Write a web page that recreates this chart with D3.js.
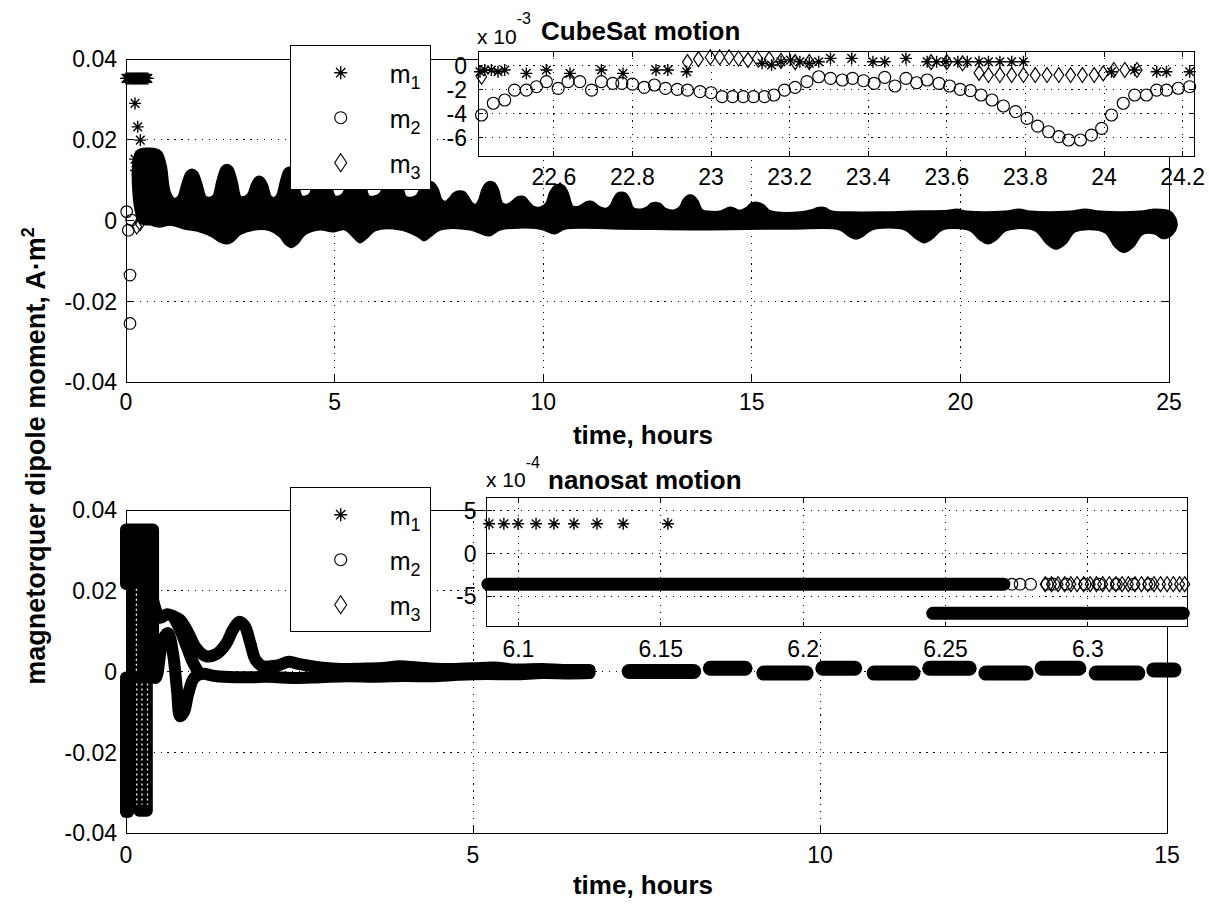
<!DOCTYPE html>
<html>
<head>
<meta charset="utf-8">
<script src="https://cdn.jsdelivr.net/npm/d3@7"></script>
<style>
  body { margin: 0; background: #fff; }
  svg { display: block; }
  text { font-family: "Liberation Sans", Arial, Helvetica, sans-serif; fill: #000; }
</style>
</head>
<body>
<svg id="chart" width="1209" height="906"></svg>
<script>
// ---------------- tick values ----------------
const mainYTicks = [-0.04, -0.02, 0, 0.02, 0.04];
const cubeXTicks = [0, 5, 10, 15, 20, 25];
const nanoXTicks = [0, 5, 10, 15];
const cubeZoomXTicks = [22.6, 22.8, 23, 23.2, 23.4, 23.6, 23.8, 24, 24.2];
const cubeZoomYTicks = [0, -2, -4, -6];
const nanoZoomXTicks = [6.1, 6.15, 6.2, 6.25, 6.3];
const nanoZoomYTicks = [5, 0, -5];
const legendSubs = ["1", "2", "3"];

// ---------------- CubeSat run (hours, A·m²) ----------------
// outer edges of the dense m1/m2/m3 marker band
const cubeBandUpper = [[0.26,0.0170],[0.58,0.0177],[0.82,0.0170],[0.94,0.0137],[1.04,0.0070],[1.16,0.0053],
  [1.26,0.0058],[1.36,0.0090],[1.47,0.0119],[1.58,0.0125],[1.69,0.0119],[1.80,0.0090],[1.90,0.0058],[2.00,0.0055],
  [2.10,0.0060],[2.20,0.0098],[2.31,0.0131],[2.42,0.0137],[2.53,0.0131],[2.64,0.0098],[2.74,0.0058],[2.85,0.0058],
  [2.94,0.0065],[3.03,0.0090],[3.11,0.0104],[3.19,0.0108],[3.28,0.0104],[3.37,0.0088],[3.47,0.0058],[3.56,0.0055],
  [3.64,0.0064],[3.73,0.0100],[3.82,0.0125],[3.91,0.0130],[4.01,0.0125],[4.10,0.0100],[4.20,0.0060],[4.30,0.0058],
  [4.42,0.0066],[4.51,0.0102],[4.60,0.0125],[4.70,0.0130],[4.80,0.0125],[4.89,0.0100],[4.99,0.0060],[5.09,0.0058],
  [5.21,0.0066],[5.31,0.0098],[5.41,0.0116],[5.51,0.0120],[5.61,0.0116],[5.71,0.0095],[5.81,0.0060],[5.95,0.0058],
  [6.10,0.0066],[6.20,0.0092],[6.30,0.0109],[6.40,0.0113],[6.50,0.0109],[6.60,0.0090],[6.70,0.0058],[6.86,0.0056],
  [6.98,0.0062],[7.08,0.0082],[7.17,0.0092],[7.26,0.0095],[7.36,0.0092],[7.46,0.0078],[7.56,0.0050],[7.66,0.0045],
  [7.76,0.0054],[7.85,0.0065],[7.93,0.0070],[8.01,0.0071],[8.10,0.0069],[8.19,0.0058],[8.29,0.0042],[8.39,0.0038],
  [8.47,0.0050],[8.56,0.0078],[8.65,0.0092],[8.73,0.0095],[8.82,0.0092],[8.91,0.0076],[9.01,0.0042],[9.12,0.0038],
  [9.24,0.0044],[9.33,0.0052],[9.40,0.0057],[9.47,0.0058],[9.55,0.0056],[9.64,0.0046],[9.75,0.0034],[9.93,0.0031],
  [10.08,0.0042],[10.18,0.0070],[10.29,0.0085],[10.38,0.0088],[10.48,0.0085],[10.58,0.0068],[10.70,0.0034],[10.85,0.0033],
  [10.97,0.0040],[11.05,0.0045],[11.12,0.0046],[11.20,0.0044],[11.30,0.0035],[11.50,0.0028],
  [11.62,0.0036],[11.71,0.0055],[11.79,0.0066],[11.87,0.0068],[11.96,0.0066],[12.05,0.0054],[12.15,0.0030],[12.35,0.0026],
  [12.50,0.0032],[12.60,0.0041],[12.70,0.0043],[12.80,0.0040],[12.92,0.0028],[13.15,0.0024],
  [13.28,0.0032],[13.37,0.0050],[13.45,0.0059],[13.52,0.0061],[13.60,0.0059],[13.69,0.0048],[13.80,0.0025],[13.95,0.0021],
  [14.24,0.0021],[14.38,0.0027],[14.48,0.0031],[14.58,0.0028],[14.70,0.0023],[14.88,0.0030],[14.98,0.0040],[15.13,0.0043],
  [15.27,0.0037],[15.40,0.0024],[15.56,0.0019],[16.16,0.0019],[16.45,0.0025],[16.58,0.0030],[16.66,0.0031],[16.76,0.0029],
  [16.90,0.0022],[17.35,0.0019],[18.07,0.0019],[18.79,0.0021],[19.70,0.0023],[19.92,0.0026],[20.15,0.0021],[21.07,0.0021],
  [21.41,0.0026],[21.67,0.0021],[22.63,0.0021],[22.99,0.0026],[23.35,0.0021],[24.31,0.0021],[24.66,0.0026],[25.02,0.0021],[25.14,0.0006]];
const cubeBandLower = [[0.34,-0.0004],[0.58,-0.0009],[0.82,-0.0014],[1.06,-0.0009],[1.41,-0.0019],[1.77,-0.0026],[2.06,-0.0038],[2.25,-0.0051],[2.40,-0.0056],[2.54,-0.0051],[2.73,-0.0033],[3.09,-0.0021],[3.45,-0.0023],[3.69,-0.0038],[3.84,-0.0058],[3.96,-0.0065],[4.10,-0.0056],[4.29,-0.0033],[4.65,-0.0021],[4.96,-0.0026],[5.25,-0.0021],[5.49,-0.0043],[5.61,-0.0053],[5.75,-0.0043],[5.97,-0.0023],[6.57,-0.0021],[7.00,-0.0038],[7.14,-0.0048],[7.29,-0.0038],[7.53,-0.0021],[8.25,-0.0021],[8.70,-0.0036],[8.97,-0.0021],[9.92,-0.0019],[10.28,-0.0031],[10.52,-0.0019],[11.84,-0.0019],[13.76,-0.0021],[15.92,-0.0019],[17.11,-0.0021],[17.35,-0.0038],[17.50,-0.0044],[17.64,-0.0038],[17.88,-0.0021],[18.67,-0.0021],[18.94,-0.0043],[19.13,-0.0053],[19.32,-0.0043],[19.56,-0.0021],[20.23,-0.0023],[20.47,-0.0046],[20.66,-0.0056],[20.85,-0.0046],[21.09,-0.0023],[21.79,-0.0023],[22.08,-0.0056],[22.29,-0.0069],[22.51,-0.0056],[22.75,-0.0026],[23.47,-0.0028],[23.71,-0.0063],[23.92,-0.0077],[24.14,-0.0063],[24.35,-0.0033],[24.66,-0.0031],[24.86,-0.0043],[25.07,-0.0033],[25.17,-0.0014]];
// isolated markers of the start-up transient
const cubeEarlyM1 = [[0.000,0.0352],[0.025,0.0352],[0.050,0.0352],[0.075,0.0352],[0.100,0.0352],[0.125,0.0352],[0.150,0.0352],[0.175,0.0352],[0.200,0.0352],[0.225,0.0352],[0.250,0.0352],[0.275,0.0352],[0.300,0.0352],[0.325,0.0352],[0.350,0.0352],[0.375,0.0352],[0.400,0.0352],[0.425,0.0352],[0.450,0.0352],[0.475,0.0352],[0.500,0.0352],[0.525,0.0352],[0.216,0.0290],[0.280,0.0232],[0.343,0.0199],[0.216,0.0152],[0.336,0.0160],[0.240,0.0124],[0.352,0.0100],[0.431,0.0080],[0.575,0.0043],[0.735,0.0009]];
const cubeEarlyM2 = [[0.016,0.0022],[0.056,-0.0024],[0.096,-0.0135],[0.096,-0.0255],[0.575,0.0018],[0.136,0.0001]];
const cubeEarlyM3 = [[0.256,-0.0015],[0.336,-0.0007]];

// CubeSat detail, 22.4–24.2 h (units of 1e-3 A·m²)
const cubeZoomM1 = [[22.412,-0.50],[22.424,-0.36],[22.441,-0.36],[22.458,-0.50],[22.475,-0.36],[22.530,-0.64],[22.581,-0.36],[22.641,-0.64],[22.721,-0.36],[22.776,-0.64],[22.860,-0.36],[22.890,-0.36],[22.938,-0.50],[23.130,0.20],[23.154,0.06],[23.178,0.33],[23.202,0.47],[23.226,0.33],[23.250,0.20],[23.274,0.33],[23.304,0.61],[23.358,0.61],[23.412,0.33],[23.442,0.33],[23.496,0.61],[23.550,0.33],[23.574,0.33],[23.598,0.33],[23.628,0.33],[23.652,0.33],[23.682,0.33],[23.706,0.33],[23.735,0.33],[23.765,0.33],[23.795,0.33],[24.019,-0.50],[24.078,-0.36],[24.134,-0.50],[24.159,-0.50],[24.218,-0.50]];
const cubeZoomM2 = [[22.416,-4.11],[22.446,-3.13],[22.475,-2.86],[22.500,-2.03],[22.530,-2.03],[22.556,-1.75],[22.581,-1.33],[22.611,-1.89],[22.636,-1.33],[22.666,-1.33],[22.696,-2.03],[22.721,-1.33],[22.750,-1.47],[22.773,-1.47],[22.800,-1.53],[22.830,-1.80],[22.856,-1.61],[22.884,-1.89],[22.914,-1.97],[22.940,-2.03],[22.972,-2.16],[23.000,-2.25],[23.028,-2.58],[23.055,-2.58],[23.082,-2.58],[23.108,-2.58],[23.136,-2.58],[23.160,-2.44],[23.187,-2.03],[23.214,-1.80],[23.244,-1.33],[23.274,-0.92],[23.304,-1.05],[23.334,-1.19],[23.360,-1.05],[23.388,-1.25],[23.415,-1.47],[23.442,-0.97],[23.468,-1.69],[23.496,-1.05],[23.523,-1.42],[23.550,-1.19],[23.580,-1.47],[23.607,-1.69],[23.634,-1.97],[23.660,-2.08],[23.687,-2.44],[23.715,-2.86],[23.744,-3.36],[23.775,-3.83],[23.804,-4.39],[23.831,-5.03],[23.859,-5.50],[23.885,-5.91],[23.910,-6.19],[23.940,-6.19],[23.968,-5.78],[23.994,-5.22],[24.019,-4.11],[24.049,-3.13],[24.078,-2.44],[24.108,-2.44],[24.134,-2.03],[24.159,-2.03],[24.189,-1.88],[24.218,-1.75]];
const cubeZoomM3 = [[22.416,-0.92],[22.940,0.30],[22.968,0.55],[22.998,0.70],[23.022,0.70],[23.046,0.70],[23.070,0.60],[23.094,0.47],[23.118,0.60],[23.148,0.55],[23.178,0.40],[23.214,0.30],[23.250,0.30],[23.560,0.30],[23.600,0.30],[23.640,0.20],[23.682,-0.60],[23.706,-0.78],[23.735,-0.78],[23.765,-0.78],[23.795,-0.78],[23.825,-0.78],[23.855,-0.78],[23.885,-0.78],[23.915,-0.78],[23.945,-0.78],[23.975,-0.78],[23.998,-0.64],[24.025,-0.36],[24.053,-0.36],[24.084,-0.36]];

// ---------------- nanosat run (hours, A·m²) ----------------
// saturated intervals [t0, t1, vLow, vHigh]
const nanoSatBlocks = [[0.00,0.39,0.0217,0.0352],[0.10,0.39,-0.0010,0.0217],[0.00,0.03,-0.0348,-0.0015],[0.19,0.30,-0.0345,-0.0015]];
// columns of hollow markers inside the saturated part [t, vTop, vBottom]
const nanoHollowCols = [[0.15,0.0205,-0.0005],[0.155,-0.003,-0.033],[0.23,-0.003,-0.033],[0.31,-0.003,-0.033]];
const nanoTraceA = [[0.39,0.0177],[0.49,0.0133],[0.59,0.0142],[0.68,0.0137],[0.78,0.0128],[0.89,0.0098],[1.01,0.0058],[1.15,0.0038],[1.30,0.0043],[1.44,0.0068],[1.54,0.0103],[1.63,0.0123],[1.71,0.0113],[1.79,0.0071],[1.87,0.0028],[1.99,0.0011],[2.15,0.0011]];
const nanoTraceB = [[0.39,-0.0010],[0.43,-0.0016],[0.53,0.0078],[0.605,0.0095],[0.68,0.0041],[0.735,-0.0046],[0.78,-0.0111],[0.836,-0.0100],[0.893,-0.0058],[0.98,-0.0016],[1.095,-0.0006],[1.28,-0.0011],[1.57,-0.0014],[1.86,-0.0014],[2.15,-0.0011]];
const nanoTraceC = [[0.68,0.0137],[0.78,0.0103],[0.865,0.0066],[0.95,0.0028],[1.04,-0.0001]];
const nanoFlatUpper = [[2.0,0.0012],[2.2,0.0016],[2.35,0.0024],[2.5,0.0018],[2.8,0.0010],[3.1,0.0006],[3.4,0.0007],[3.7,0.0009],[3.95,0.0013],[4.2,0.0010],[4.6,0.0006],[5.0,0.0008],[5.3,0.0010],[5.6,0.0005],[6.0,0.0006],[6.3,0.0004],[6.68,0.0004]];
const nanoFlatLower = [[2.0,-0.0012],[2.4,-0.0016],[2.8,-0.0014],[3.2,-0.0012],[3.6,-0.0013],[4.0,-0.0011],[4.4,-0.0012],[4.8,-0.0008],[5.2,-0.0006],[5.6,-0.0007],[6.0,-0.0004],[6.4,-0.0005],[6.68,-0.0004]];
// later logged stretches [t0, t1, v]
const nanoSegments = [[7.25,8.18,0.0000],[8.42,8.92,0.0008],[9.19,9.80,-0.0004],[10.04,10.50,0.0008],[10.78,11.34,-0.0004],[11.58,12.15,0.0008],[12.39,12.97,-0.0004],[13.20,13.73,0.0008],[13.98,14.58,-0.0004],[14.81,15.10,0.0004]];

// nanosat detail, 6.09–6.33 h (units of 1e-4 A·m²)
const nanoZoomM1 = [[6.0897,3.45],[6.0949,3.45],[6.0999,3.45],[6.1062,3.45],[6.1125,3.45],[6.1195,3.45],[6.1276,3.45],[6.1368,3.45],[6.1525,3.45]];
const nanoZoomBands = [[6.0893,6.2705,-3.6],[6.2455,6.3335,-7.0]];
const nanoZoomM2 = [[6.2733,-3.6],[6.2762,-3.6],[6.2799,-3.6],[6.2857,-3.6],[6.2880,-3.6],[6.2925,-3.6],[6.2990,-3.6],[6.3040,-3.6],[6.3100,-3.6],[6.3160,-3.6],[6.3215,-3.6]];
const nanoZoomM3 = [[6.2850,-3.6],[6.2872,-3.6],[6.2895,-3.6],[6.2918,-3.6],[6.2940,-3.6],[6.2962,-3.6],[6.2985,-3.6],[6.3008,-3.6],[6.3030,-3.6],[6.3052,-3.6],[6.3075,-3.6],[6.3098,-3.6],[6.3120,-3.6],[6.3142,-3.6],[6.3165,-3.6],[6.3188,-3.6],[6.3210,-3.6],[6.3232,-3.6],[6.3255,-3.6],[6.3278,-3.6],[6.3300,-3.6],[6.3322,-3.6],[6.3340,-3.6]];

// ---------------- drawing ----------------
const svg = d3.select("#chart");
svg.append("rect").attr("width", 1209).attr("height", 906).attr("fill", "#fff");

const fmt = v => (v === 0 ? "0" : String(v));

function starPath(s) {
  const k = s * 0.72;
  return `M${-s},0H${s}M0,${-s}V${s}M${-k},${-k}L${k},${k}M${-k},${k}L${k},${-k}`;
}
function diamondPath(w, h) { return `M0,${-h}L${w},0L0,${h}L${-w},0Z`; }
function circlePath(r) { return d3.symbol(d3.symbolCircle, Math.PI * r * r)(); }

function markers(g, data, sc, kind, size) {
  const d = kind === "star" ? starPath(size.s)
          : kind === "circle" ? circlePath(size.r)
          : diamondPath(size.w, size.h);
  g.append("g").selectAll("path").data(data).join("path")
    .attr("transform", p => `translate(${sc.x(p[0])},${sc.y(p[1])})`)
    .attr("d", d).attr("fill", "none").attr("stroke", "#000")
    .attr("stroke-width", kind === "star" ? 1.4 : 1.15);
}

function grid(g, sc, xt, yt) {
  const [x0, x1] = sc.x.range(), [yb, yt0] = sc.y.range();
  const gg = g.append("g").attr("stroke", "#000").attr("stroke-width", 1)
    .attr("stroke-dasharray", "1.3,5.6").attr("shape-rendering", "crispEdges");
  xt.forEach(t => gg.append("line").attr("x1", sc.x(t)).attr("x2", sc.x(t)).attr("y1", yb).attr("y2", yt0));
  yt.forEach(v => gg.append("line").attr("x1", x0).attr("x2", x1).attr("y1", sc.y(v)).attr("y2", sc.y(v)));
}

function frame(g, sc, xt, yt, o) {
  const [x0, x1] = sc.x.range(), [yb, ytop] = sc.y.range();
  const f = g.append("g");
  f.append("rect").attr("x", x0).attr("y", ytop).attr("width", x1 - x0).attr("height", yb - ytop)
    .attr("fill", "none").attr("stroke", "#000").attr("stroke-width", 1).attr("shape-rendering", "crispEdges");
  const tk = f.append("g").attr("stroke", "#000").attr("stroke-width", 1).attr("shape-rendering", "crispEdges");
  xt.forEach(t => {
    tk.append("line").attr("x1", sc.x(t)).attr("x2", sc.x(t)).attr("y1", yb).attr("y2", yb - o.tick);
    tk.append("line").attr("x1", sc.x(t)).attr("x2", sc.x(t)).attr("y1", ytop).attr("y2", ytop + o.tick);
  });
  yt.forEach(v => {
    tk.append("line").attr("x1", x0).attr("x2", x0 + o.tick).attr("y1", sc.y(v)).attr("y2", sc.y(v));
    tk.append("line").attr("x1", x1).attr("x2", x1 - o.tick).attr("y1", sc.y(v)).attr("y2", sc.y(v));
  });
  f.append("g").selectAll("text").data(xt).join("text")
    .attr("x", t => sc.x(t)).attr("y", yb + o.xDy).attr("text-anchor", "middle")
    .attr("font-size", o.fs).text(fmt);
  f.append("g").selectAll("text").data(yt).join("text")
    .attr("x", x0 - o.yDx).attr("y", v => sc.y(v) + o.fs * 0.36).attr("text-anchor", "end")
    .attr("font-size", o.fs).text(fmt);
}

function legend(g, x, y, w, h) {
  const L = g.append("g");
  L.append("rect").attr("x", x).attr("y", y).attr("width", w).attr("height", h)
    .attr("fill", "#fff").attr("stroke", "#000").attr("stroke-width", 1).attr("shape-rendering", "crispEdges");
  const rows = [27, 72, 117];
  const kinds = ["star", "circle", "diamond"];
  kinds.forEach((k, i) => {
    const cy = y + rows[i], cx = x + 50;
    const d = k === "star" ? starPath(6.5) : k === "circle" ? circlePath(6) : diamondPath(6, 9);
    L.append("path").attr("transform", `translate(${cx},${cy})`).attr("d", d)
      .attr("fill", "none").attr("stroke", "#000").attr("stroke-width", k === "star" ? 1.4 : 1.15);
    const t = L.append("text").attr("x", x + 99).attr("y", cy + 10).attr("font-size", 25);
    t.append("tspan").text("m");
    t.append("tspan").attr("font-size", 18).attr("dy", 6).text(legendSubs[i]);
  });
}

const lineGen = sc => d3.line().x(p => sc.x(p[0])).y(p => sc.y(p[1]));

// ===== upper panel: CubeSat =====
const cubeSc = {
  x: d3.scaleLinear().domain([0, 25]).range([126, 1169]),
  y: d3.scaleLinear().domain([-0.04, 0.04]).range([382, 59])
};
const gTop = svg.append("g");
grid(gTop, cubeSc, cubeXTicks, mainYTicks);
const bandPoly = cubeBandUpper.concat(cubeBandLower.slice().reverse());
gTop.append("path").attr("d", lineGen(cubeSc).curve(d3.curveCatmullRomClosed.alpha(0.5))(bandPoly))
  .attr("fill", "#000").attr("stroke", "#000").attr("stroke-width", 3).attr("stroke-linejoin", "round");
markers(gTop, cubeEarlyM1, cubeSc, "star", { s: 6 });
markers(gTop, cubeEarlyM2, cubeSc, "circle", { r: 5.8 });
markers(gTop, cubeEarlyM3, cubeSc, "diamond", { w: 5, h: 7.5 });
frame(gTop, cubeSc, cubeXTicks, mainYTicks, { tick: 7, fs: 23, xDy: 28, yDx: 9 });
gTop.append("text").attr("x", 643).attr("y", 444).attr("text-anchor", "middle")
  .attr("font-size", 26).attr("font-weight", "bold").text("time, hours");
legend(gTop, 290.7, 45.7, 139.3, 143.6);

// CubeSat detail inset
const cubeZoomSc = {
  x: d3.scaleLinear().domain([22.407, 24.229]).range([478, 1194]),
  y: d3.scaleLinear().domain([-7.525, 1.167]).range([156, 51.7])
};
const gTi = svg.append("g");
gTi.append("rect").attr("x", 478).attr("y", 51.7).attr("width", 716).attr("height", 104.3).attr("fill", "#fff");
grid(gTi, cubeZoomSc, cubeZoomXTicks, cubeZoomYTicks);
markers(gTi, cubeZoomM3, cubeZoomSc, "diamond", { w: 5, h: 7.5 });
markers(gTi, cubeZoomM2, cubeZoomSc, "circle", { r: 6 });
markers(gTi, cubeZoomM1, cubeZoomSc, "star", { s: 6 });
frame(gTi, cubeZoomSc, cubeZoomXTicks, cubeZoomYTicks, { tick: 5, fs: 23, xDy: 29, yDx: 11 });
const e1 = gTi.append("text").attr("x", 477).attr("y", 44).attr("font-size", 21);
e1.append("tspan").text("x 10");
e1.append("tspan").attr("font-size", 16).attr("dy", -20).text("-3");
gTi.append("text").attr("x", 541).attr("y", 40).attr("font-size", 26).attr("font-weight", "bold").text("CubeSat motion");

// ===== lower panel: nanosat =====
const nanoSc = {
  x: d3.scaleLinear().domain([0, 15]).range([126, 1167]),
  y: d3.scaleLinear().domain([-0.04, 0.04]).range([833, 510])
};
const gBot = svg.append("g");
grid(gBot, nanoSc, nanoXTicks, mainYTicks);
gBot.append("g").selectAll("rect").data(nanoSatBlocks).join("rect")
  .attr("x", b => nanoSc.x(b[0])).attr("width", b => nanoSc.x(b[1]) - nanoSc.x(b[0]))
  .attr("y", b => nanoSc.y(b[3])).attr("height", b => nanoSc.y(b[2]) - nanoSc.y(b[3]))
  .attr("fill", "#000").attr("stroke", "#000").attr("stroke-width", 12).attr("stroke-linejoin", "round");
gBot.append("g").selectAll("line").data(nanoHollowCols).join("line")
  .attr("x1", c => nanoSc.x(c[0])).attr("x2", c => nanoSc.x(c[0]))
  .attr("y1", c => nanoSc.y(c[1])).attr("y2", c => nanoSc.y(c[2]))
  .attr("stroke", "#fff").attr("stroke-width", 1.3).attr("stroke-dasharray", "2,3");
[nanoTraceA, nanoTraceB, nanoTraceC, nanoFlatUpper, nanoFlatLower].forEach(tr => {
  gBot.append("path").attr("d", lineGen(nanoSc).curve(d3.curveCatmullRom)(tr))
    .attr("fill", "none").attr("stroke", "#000").attr("stroke-width", 12)
    .attr("stroke-linecap", "round").attr("stroke-linejoin", "round");
});
gBot.append("g").selectAll("line").data(nanoSegments).join("line")
  .attr("x1", s => nanoSc.x(s[0])).attr("x2", s => nanoSc.x(s[1]))
  .attr("y1", s => nanoSc.y(s[2])).attr("y2", s => nanoSc.y(s[2]))
  .attr("stroke", "#000").attr("stroke-width", 15).attr("stroke-linecap", "round");
frame(gBot, nanoSc, nanoXTicks, mainYTicks, { tick: 7, fs: 23, xDy: 30, yDx: 9 });
gBot.append("text").attr("x", 643).attr("y", 894).attr("text-anchor", "middle")
  .attr("font-size", 26).attr("font-weight", "bold").text("time, hours");
legend(gBot, 290.7, 487.7, 139.3, 143.3);

// nanosat detail inset
const nanoZoomSc = {
  x: d3.scaleLinear().domain([6.0888, 6.3348]).range([486.5, 1187]),
  y: d3.scaleLinear().domain([-8.56, 6.49]).range([626.7, 497.7])
};
const gBi = svg.append("g");
gBi.append("rect").attr("x", 486.5).attr("y", 497.7).attr("width", 700.5).attr("height", 129).attr("fill", "#fff");
grid(gBi, nanoZoomSc, nanoZoomXTicks, nanoZoomYTicks);
gBi.append("g").selectAll("line").data(nanoZoomBands).join("line")
  .attr("x1", s => nanoZoomSc.x(s[0])).attr("x2", s => nanoZoomSc.x(s[1]))
  .attr("y1", s => nanoZoomSc.y(s[2])).attr("y2", s => nanoZoomSc.y(s[2]))
  .attr("stroke", "#000").attr("stroke-width", 13).attr("stroke-linecap", "round");
markers(gBi, nanoZoomM2, nanoZoomSc, "circle", { r: 5.8 });
markers(gBi, nanoZoomM3, nanoZoomSc, "diamond", { w: 5, h: 7.5 });
markers(gBi, nanoZoomM1, nanoZoomSc, "star", { s: 6 });
frame(gBi, nanoZoomSc, nanoZoomXTicks, nanoZoomYTicks, { tick: 5, fs: 23, xDy: 30, yDx: 10 });
const e2 = gBi.append("text").attr("x", 486).attr("y", 487).attr("font-size", 21);
e2.append("tspan").text("x 10");
e2.append("tspan").attr("font-size", 16).attr("dy", -19).text("-4");
gBi.append("text").attr("x", 548).attr("y", 489).attr("font-size", 26).attr("font-weight", "bold").text("nanosat motion");

// shared y label
const yl = svg.append("text").attr("transform", "translate(45,456) rotate(-90)")
  .attr("text-anchor", "middle").attr("font-size", 27).attr("font-weight", "bold");
yl.append("tspan").text("magnetorquer dipole moment, A·m");
yl.append("tspan").attr("font-size", 18).attr("dy", -11).text("2");
</script>
</body>
</html>
